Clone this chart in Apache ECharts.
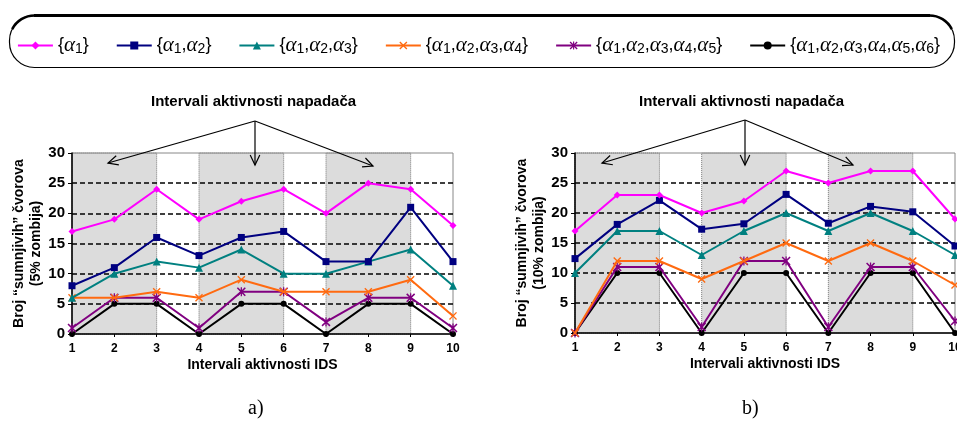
<!DOCTYPE html>
<html><head><meta charset="utf-8">
<script src="https://cdn.jsdelivr.net/npm/echarts@6/dist/echarts.min.js"></script>
<style>html,body{margin:0;padding:0;background:#fff}#c{width:957px;height:421px}</style>
</head><body><div id="c"></div>
<script>
var categories = ['1','2','3','4','5','6','7','8','9','10'];
var seriesNames = ['{α1}','{α1,α2}','{α1,α2,α3}','{α1,α2,α3,α4}','{α1,α2,α3,α4,α5}','{α1,α2,α3,α4,α5,α6}'];
// Chart a) 5% zombija
var a1 = [17,19,24,19,22,24,20,25,24,18];
var a12 = [8,11,16,13,16,17,12,12,21,12];
var a123 = [6,10,12,11,14,10,10,12,14,8];
var a1234 = [6,6,7,6,9,7,7,7,9,3];
var a12345 = [1,6,6,1,7,7,2,6,6,1];
var a123456 = [0,5,5,0,5,5,0,5,5,0];
// Chart b) 10% zombija
var b1 = [17,23,23,20,22,27,25,27,27,19];
var b12 = [12.4,18.1,22.1,17.3,18.2,23.1,18.3,21.1,20.2,14.5];
var b123 = [10,17,17,13,17,20,17,20,17,13];
var b1234 = [0,12,12,9,12,15,12,15,12,8];
var b12345 = [0,11,11,1,12,12,1,11,11,2];
var b123456 = [0,10,10,0,10,10,0,10,10,0];
// Attack activity intervals (shaded)
var attackIntervals = [['1','3'],['4','6'],['7','9']];
var yTicks = [0,5,10,15,20,25,30];

var colors = ['#FF00FF','#000080','#008080','#FF6A10','#800080','#000000'];
var crossPath = 'path://M0,1.2L1.2,0L5,3.8L8.8,0L10,1.2L6.2,5L10,8.8L8.8,10L5,6.2L1.2,10L0,8.8L3.8,5Z';
var starPath = 'path://M0,1.2L1.2,0L4.3,3.1L4.3,0L5.7,0L5.7,3.1L8.8,0L10,1.2L6.2,5L10,8.8L8.8,10L5.7,6.9L5.7,10L4.3,10L4.3,6.9L1.2,10L0,8.8L3.8,5Z';
var symbols = ['diamond','rect','triangle',crossPath,starPath,'circle'];
var symSizes = [7,7,8,8,9,6];

var dataA = [a1,a12,a123,a1234,a12345,a123456];
var dataB = [b1,b12,b123,b1234,b12345,b123456];

var FONT = 'Arial, "Liberation Sans", sans-serif';

function makeSeries(data, idx){
  var out = data.map(function(d,i){
    return {
      name: seriesNames[i], type:'line', xAxisIndex: idx, yAxisIndex: idx,
      data: d, symbol: symbols[i], symbolSize: symSizes[i], showSymbol:true,
      lineStyle:{color:colors[i], width:2}, itemStyle:{color:colors[i]},
      z: 10 - i, animation:false
    };
  });
  out.push({
    name:'shade', type:'line', xAxisIndex: idx, yAxisIndex: idx, data: [], z:-5, zlevel:0, silent:true,
    markArea:{silent:true, z:-5, itemStyle:{color:'#DCDCDC', borderColor:'#777', borderWidth:1, borderType:'dotted'},
      data: attackIntervals.map(function(p){return [{xAxis:p[0]},{xAxis:p[1]}];})}
  });
  return out;
}

function xAxisCfg(idx){
  return {type:'category', gridIndex: idx, data: categories, boundaryGap:false,
    axisLine:{lineStyle:{color:'#000', width:1.5}},
    axisTick:{show:true, lineStyle:{color:'#000'}, length:3},
    axisLabel:{color:'#000', fontWeight:'bold', fontSize:12, fontFamily:FONT, margin:9},
    name:'Intervali aktivnosti IDS', nameLocation:'middle', nameGap:24,
    nameTextStyle:{color:'#000', fontWeight:'bold', fontSize:14, fontFamily:FONT},
    splitLine:{show:false}};
}
function yAxisCfg(idx, pct){
  return {type:'value', gridIndex: idx, min:yTicks[0], max:yTicks[yTicks.length-1], interval:5,
    axisLine:{show:true, lineStyle:{color:'#000', width:1.5}},
    axisTick:{show:true, lineStyle:{color:'#000'}, length:4},
    axisLabel:{color:'#000', fontWeight:'bold', fontSize:15, fontFamily:FONT, margin:7},
    splitLine:{show:true, showMinLine:false, showMaxLine:false, lineStyle:{color:'#000', width:1.6, type:[5,3]}},
    name:'Broj “sumnjivih” čvorova\n(' + pct + ' zombija)', nameLocation:'middle', nameRotate:90, nameGap:23,
    nameTextStyle:{color:'#000', fontWeight:'bold', fontSize:14, fontFamily:FONT, lineHeight:17}};
}

var chart = echarts.init(document.getElementById('c'), null, {renderer:'canvas'});

function arrowGroup(o, tips){
  var els = [];
  tips.forEach(function(t){
    els.push({type:'line', shape:{x1:o[0],y1:o[1],x2:t[0],y2:t[1]}, style:{stroke:'#000', lineWidth:1.2}});
    var dx=t[0]-o[0], dy=t[1]-o[1], L=Math.sqrt(dx*dx+dy*dy), ux=dx/L, uy=dy/L;
    var h=11, ang=0.45;
    function rot(a){return [-(ux*Math.cos(a)-uy*Math.sin(a))*h, -(ux*Math.sin(a)+uy*Math.cos(a))*h];}
    var r1=rot(ang), r2=rot(-ang);
    els.push({type:'polyline', shape:{points:[[t[0]+r1[0],t[1]+r1[1]],[t[0],t[1]],[t[0]+r2[0],t[1]+r2[1]]]}, style:{stroke:'#000', lineWidth:1.2, fill:null}});
  });
  return els;
}

var graphics = [
  {type:'rect', shape:{x:9.5,y:15.5,width:945,height:52,r:25}, style:{fill:null, stroke:'#000', lineWidth:1.2}},
  {type:'line', shape:{x1:34,y1:15.5,x2:930,y2:15.5}, style:{stroke:'#000', lineWidth:3.2}},
  {type:'arc', shape:{cx:34.5,cy:40.5,r:25,startAngle:Math.PI*1.15,endAngle:Math.PI*1.5}, style:{stroke:'#000', lineWidth:2.6, fill:null}},
  {type:'arc', shape:{cx:929.5,cy:40.5,r:25,startAngle:Math.PI*1.5,endAngle:Math.PI*1.85}, style:{stroke:'#000', lineWidth:2.6, fill:null}},
  {type:'text', left:151, top:94, style:{text:'Intervali aktivnosti napadača', fill:'#000', font:'bold 15px '+FONT}},
  {type:'text', left:639, top:94, style:{text:'Intervali aktivnosti napadača', fill:'#000', font:'bold 15px '+FONT}},
  {type:'text', left:248, top:399, style:{text:'a)', fill:'#000', font:'20px "Liberation Serif", "Times New Roman", serif'}},
  {type:'text', left:742, top:399, style:{text:'b)', fill:'#000', font:'20px "Liberation Serif", "Times New Roman", serif'}}
].concat(arrowGroup([255,121],[[108,163],[255,165],[373,166]]))
 .concat(arrowGroup([745,120],[[602,163],[745,165],[853,165]]));
graphics.forEach(function(g){g.z=100; g.silent=true;});

chart.setOption({
  animation:false,
  backgroundColor:'#fff',
  legend:{
    data: seriesNames, top:30, left:'center', itemWidth:35, itemHeight:10, itemGap:27,
    textStyle:{color:'#000', fontSize:18, fontFamily:FONT,
      rich:{
        a:{fontFamily:'"Liberation Serif", "Times New Roman", serif', fontStyle:'italic', fontSize:21, color:'#000'},
        s:{fontSize:14, fontFamily:FONT, color:'#000', verticalAlign:'bottom', padding:[6,0,0,0]}
      }},
    formatter:function(name){ return name.replace(/α(\d)/g, '{a|α}{s|$1}'); }
  },
  grid:[
    {left:72, width:381, top:153, height:181, show:true, borderColor:'#888', borderWidth:1, backgroundColor:'transparent', outerBoundsMode:'none'},
    {left:575, width:380, top:153, height:180, show:true, borderColor:'#888', borderWidth:1, backgroundColor:'transparent', outerBoundsMode:'none'}
  ],
  xAxis:[xAxisCfg(0), xAxisCfg(1)],
  yAxis:[yAxisCfg(0,'5%'), yAxisCfg(1,'10%')],
  series: makeSeries(dataA,0).concat(makeSeries(dataB,1)),
  graphic: graphics
});
</script></body></html>
